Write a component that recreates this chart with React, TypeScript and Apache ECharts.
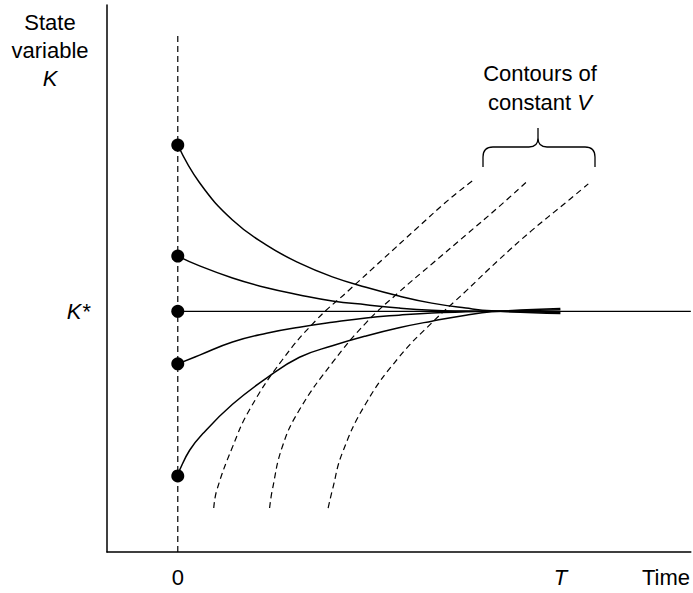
import React, { useEffect, useRef } from 'react';
import * as echarts from 'echarts';

const FONT = "'Liberation Sans', Arial, Helvetica, sans-serif";
const FS = 22;

// Time axis: 0 at start, T = 10 (time horizon)
const X_MIN = -1.85;
const X_MAX = 13.41;
const T_HORIZON = 10;
const TIME_LABEL_AT = 12.76;
const xTickValues = [0, T_HORIZON, TIME_LABEL_AT];

// State axis
const Y_MIN = 0;
const Y_MAX = 100;
const K_STAR = 44;
const yTickValues = [K_STAR];

// Initial states K(0)
const initialStates = [74.4, 54.1, 44, 34.4, 13.9];

// Optimal paths (time, K)
const pathHigh: [number, number][] = [
  [0, 74.4], [0.57, 67.5], [1.43, 60.7], [2.32, 56.1], [3.18, 52.8],
  [4.04, 50.3], [4.92, 48.4], [5.78, 46.8], [6.64, 45.5], [7.53, 44.6], [8.2, 44.1], [10, 43.6],
];
const pathMidHigh: [number, number][] = [
  [0, 54.1], [0.57, 52.3], [1.43, 50.1], [2.32, 48.3], [3.18, 47.0], [4.04, 45.9],
  [4.92, 45.2], [5.78, 44.6], [6.64, 44.2], [7.53, 44.05], [8.2, 44.0], [10, 43.8],
];
const pathSteady: [number, number][] = [
  [0, 44], [X_MAX, 44],
];
const pathMidLow: [number, number][] = [
  [0, 34.4], [0.57, 36.0], [1.43, 38.4], [2.32, 40.0], [3.18, 41.1], [4.04, 42.0],
  [4.92, 42.8], [5.78, 43.3], [6.64, 43.7], [7.53, 43.9], [8.2, 44.0], [10, 44.3],
];
const pathLow: [number, number][] = [
  [0, 13.9], [0.05, 15.0], [0.31, 18.6], [0.65, 21.6], [1.43, 27.0], [2.32, 31.8],
  [3.18, 35.6], [4.04, 37.7], [4.92, 39.5], [5.78, 41.0], [6.64, 42.2], [7.53, 43.3],
  [8.2, 43.9], [10, 44.5],
];

// Contours of constant V (time, K)
const contour1: [number, number][] = [
  [0.94, 8.04], [1.02, 11.3], [1.43, 19.2], [1.875, 26.0], [2.73, 35.1], [3.62, 42.4],
  [4.48, 47.9], [5.34, 53.4], [6.22, 59.0], [7.08, 64.4], [7.73, 68.0],
];
const contour2: [number, number][] = [
  [2.40, 8.04], [2.47, 11.3], [2.73, 19.2], [3.18, 26.0], [4.04, 34.6], [4.92, 41.9],
  [5.78, 47.5], [6.64, 52.65], [7.53, 57.95], [8.39, 63.1], [9.17, 68.0],
];
const contour3: [number, number][] = [
  [3.93, 8.04], [4.04, 11.3], [4.30, 18.1], [4.92, 27.2], [5.78, 35.6], [6.64, 41.9],
  [7.53, 47.7], [8.39, 53.4], [9.24, 58.7], [10.13, 63.8], [10.73, 67.3],
];

// Initial-time marker (dashed vertical at t = 0)
const startLine: [number, number][] = [[0, 0], [0, 94.9]];

const BRACE_D =
  'M483,167 L483,157 Q483,147 493,147 L529,147 Q538,147 538,138 L538,128 ' +
  'M538,138 Q538,147 547,147 L585,147 Q595,147 595,157 L595,167';

let braceRegistered = false;
function registerBrace() {
  if (braceRegistered) return;
  echarts.graphic.registerShape('brace', echarts.graphic.extendPath(BRACE_D, {}));
  braceRegistered = true;
}

export default function App() {
  const ref = useRef<HTMLDivElement>(null);
  useEffect(() => {
    if (!ref.current) return;
    registerBrace();
    const chart = echarts.init(ref.current, undefined, { renderer: 'svg' });
    const solid = { color: '#000', width: 1.5 };
    const dashed = { color: '#000', width: 1.2, type: [6, 4] as number[] };
    const curve = (data: [number, number][]) => ({
      type: 'line',
      data,
      symbol: 'none',
      smooth: 0.45,
      lineStyle: solid,
      silent: true,
    });
    const contour = (data: [number, number][]) => ({
      type: 'line',
      data,
      symbol: 'none',
      smooth: 0.45,
      lineStyle: dashed,
      silent: true,
    });
    chart.setOption({
      animation: false,
      backgroundColor: '#fff',
      textStyle: { fontFamily: FONT },
      grid: { left: 107, right: 0, top: 5, bottom: 41, containLabel: false },
      xAxis: {
        type: 'value',
        min: X_MIN,
        max: X_MAX,
        axisLine: { show: true, onZero: false, lineStyle: { color: '#000', width: 1.5 } },
        axisTick: { show: false },
        splitLine: { show: false },
        axisLabel: {
          customValues: xTickValues,
          margin: 14,
          color: '#000',
          fontSize: FS,
          fontFamily: FONT,
          formatter: (v: number) => (v < 5 ? '0' : v < 11 ? '{i|T}' : 'Time'),
          rich: { i: { fontStyle: 'italic', fontSize: FS, fontFamily: FONT, color: '#000' } },
        },
      },
      yAxis: {
        type: 'value',
        min: Y_MIN,
        max: Y_MAX,
        axisLine: { show: true, onZero: false, lineStyle: { color: '#000', width: 1.5 } },
        axisTick: { show: false },
        splitLine: { show: false },
        axisLabel: {
          customValues: yTickValues,
          margin: 17,
          color: '#000',
          fontSize: FS,
          fontFamily: FONT,
          formatter: () => '{i|K*}',
          rich: { i: { fontStyle: 'italic', fontSize: FS, fontFamily: FONT, color: '#000' } },
        },
      },
      series: [
        { ...contour(startLine), smooth: false },
        { ...curve(pathSteady), smooth: false, lineStyle: { color: '#000', width: 1.3 } },
        curve(pathHigh),
        curve(pathMidHigh),
        curve(pathMidLow),
        curve(pathLow),
        contour(contour1),
        contour(contour2),
        contour(contour3),
        {
          type: 'scatter',
          data: initialStates.map((k) => [0, k]),
          symbol: 'circle',
          symbolSize: 13,
          itemStyle: { color: '#000', opacity: 1 },
          z: 10,
          silent: true,
        },
      ],
      graphic: [
        {
          type: 'text',
          x: 50,
          y: 8,
          style: {
            text: 'State\nvariable\n{i|K}',
            fontFamily: FONT,
            fontSize: FS,
            lineHeight: 28,
            fill: '#000',
            align: 'center',
            verticalAlign: 'top',
            rich: { i: { fontStyle: 'italic', fontSize: FS, fontFamily: FONT, lineHeight: 28 } },
          },
        },
        {
          type: 'text',
          x: 540,
          y: 59,
          style: {
            text: 'Contours of\nconstant {i|V}',
            fontFamily: FONT,
            fontSize: FS,
            lineHeight: 29,
            fill: '#000',
            align: 'center',
            verticalAlign: 'top',
            rich: { i: { fontStyle: 'italic', fontSize: FS, fontFamily: FONT, lineHeight: 29 } },
          },
        },
        {
          type: 'brace',
          x: 0,
          y: 0,
          silent: true,
          style: { stroke: '#000', fill: 'none', lineWidth: 1.3 },
        },
      ],
    });
    return () => chart.dispose();
  }, []);
  return (
    <div
      ref={ref}
      style={{ position: 'absolute', left: 0, top: 0, width: 693, height: 593, background: '#fff' }}
    />
  );
}
